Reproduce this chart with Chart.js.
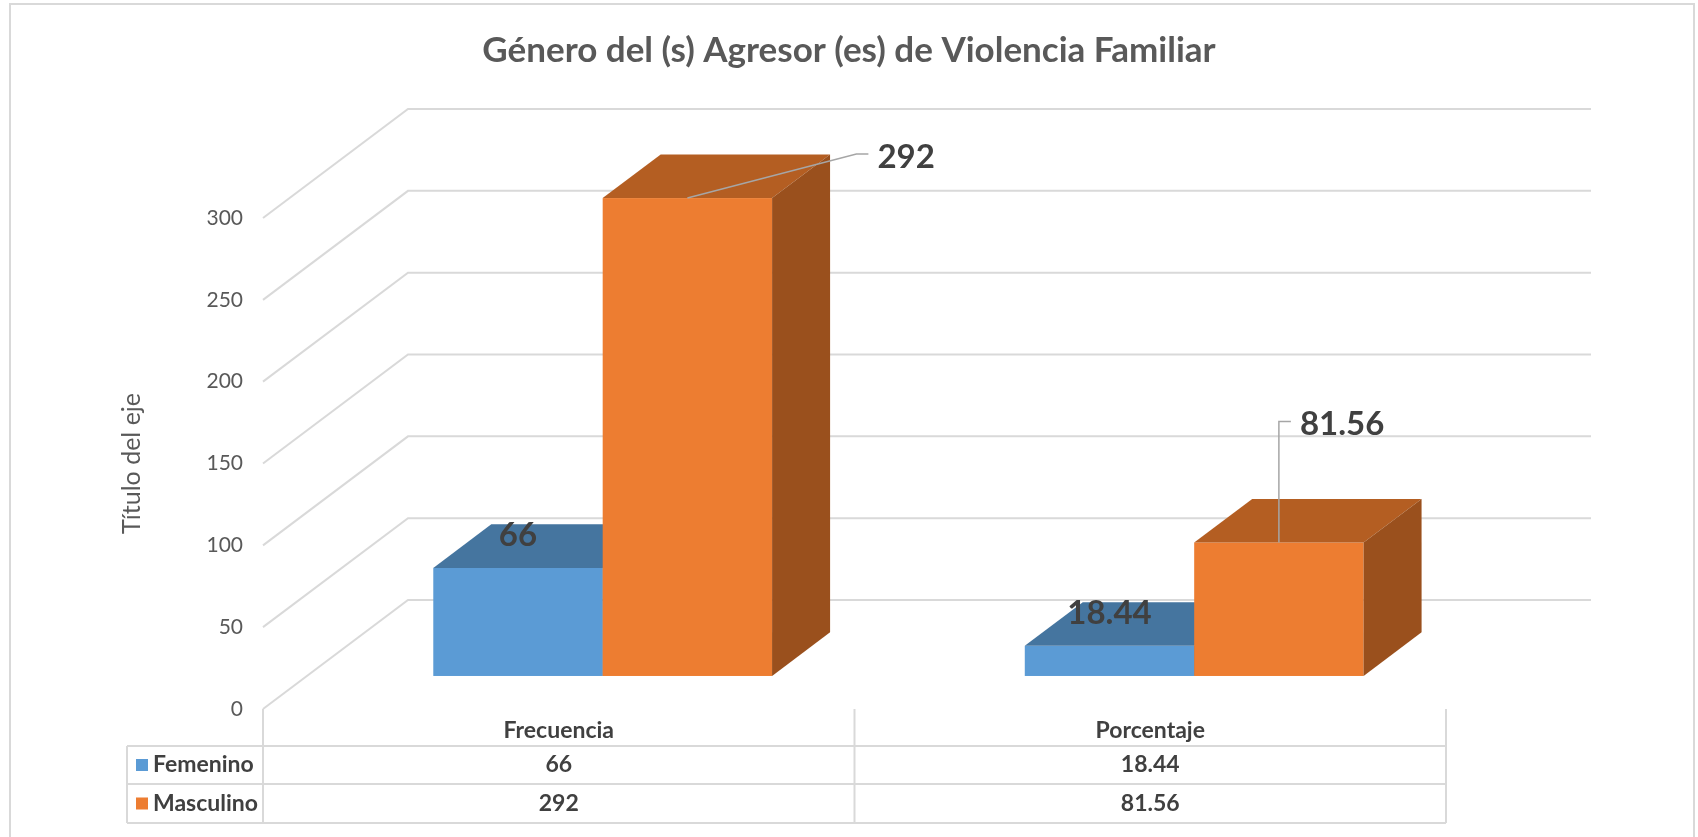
<!DOCTYPE html>
<html lang="es">
<head>
<meta charset="utf-8">
<title>Género del (s) Agresor (es) de Violencia Familiar</title>
<script src="https://cdn.jsdelivr.net/npm/chart.js@4.4.1/dist/chart.umd.min.js"></script>
<style>
    html, body { margin: 0; padding: 0; background: #fff; }
    #wrap { position: relative; width: 1698px; height: 837px; }
</style>
</head>
<body>
<div id="wrap"><canvas id="agresorChart" width="1698" height="837"></canvas></div>
<script>
/* ========================================================
   DATA
======================================================== */
const TITLE        = 'Género del (s) Agresor (es) de Violencia Familiar';
const AXIS_TITLE   = 'Título del eje';
const CATEGORIES   = ['Frecuencia', 'Porcentaje'];
const SERIES_NAMES = ['Femenino', 'Masculino'];
const FEMENINO     = [66, 18.44];
const MASCULINO    = [292, 81.56];
const Y_TICKS      = [0, 50, 100, 150, 200, 250, 300];

/* ========================================================
   STYLE
======================================================== */
const FONT      = 'Lato, "Open Sans", sans-serif';
const GRID      = '#d9d9d9';
const TEXT_DARK = '#404040';
const TEXT_MID  = '#595959';
const FACES = [
    { front: '#5b9bd5', top: '#45759f', side: '#3b6890' },
    { front: '#ed7d31', top: '#b45e22', side: '#9a501d' }
];

// 3D look: floor depth offset and where the bars sit inside it
const DEPTH_X   = 145;
const DEPTH_Y   = 109;
const BAR_FRONT = 0.303;
const BAR_DEPTH = 0.4;

// leader lines of the moved "Masculino" labels: elbow dx, elbow dy, tail
const LEADERS = [[169, -44, 12], [0, -121, 12]];

function poly(ctx, pts, color) {
    ctx.beginPath();
    ctx.moveTo(pts[0][0], pts[0][1]);
    for (let k = 1; k < pts.length; k++) ctx.lineTo(pts[k][0], pts[k][1]);
    ctx.closePath();
    ctx.fillStyle = color;
    ctx.fill();
}

/* ========================================================
   3D BOX PLUGIN
======================================================== */
const box3d = {
    id: 'box3d',
    beforeDraw(chart) {
        const ctx = chart.ctx;
        ctx.save();
        ctx.fillStyle = '#fff';
        ctx.fillRect(0, 0, chart.width, chart.height);
        ctx.strokeStyle = GRID;
        ctx.lineWidth = 2;
        ctx.strokeRect(10, 4, 1684, 900);
        ctx.restore();
    },
    beforeDatasetsDraw(chart) {
        const { ctx, chartArea: a, scales: { y } } = chart;
        ctx.save();
        ctx.strokeStyle = GRID;
        ctx.lineWidth = 2;
        y.ticks.forEach(t => {
            const py = y.getPixelForValue(t.value);
            ctx.beginPath();
            ctx.moveTo(a.left, py);
            ctx.lineTo(a.left + DEPTH_X, py - DEPTH_Y);
            ctx.lineTo(a.right + DEPTH_X, py - DEPTH_Y);
            ctx.stroke();
        });
        ctx.restore();
    },
    afterDatasetsDraw(chart) {
        const ctx = chart.ctx;
        const dx = BAR_DEPTH * DEPTH_X;
        const dy = BAR_DEPTH * DEPTH_Y;
        ctx.save();

        chart.data.datasets.forEach((ds, di) => {
            const meta = chart.getDatasetMeta(di);
            const face = FACES[di];
            meta.data.forEach(bar => {
                const { x, y, base, width } = bar.getProps(['x', 'y', 'base', 'width'], true);
                const l = x - width / 2 + BAR_FRONT * DEPTH_X;
                const r = l + width;
                const t = y - BAR_FRONT * DEPTH_Y;
                const b = base - BAR_FRONT * DEPTH_Y;
                ctx.fillStyle = face.front;
                ctx.fillRect(l, t, width, b - t);
                poly(ctx, [[l, t], [l + dx, t - dy], [r + dx, t - dy], [r, t]], face.top);
                poly(ctx, [[r, t], [r + dx, t - dy], [r + dx, b - dy], [r, b]], face.side);
            });
        });

        // data labels
        ctx.fillStyle = TEXT_DARK;
        ctx.font = `bold 33px ${FONT}`;
        chart.data.datasets.forEach((ds, di) => {
            const meta = chart.getDatasetMeta(di);
            meta.data.forEach((bar, i) => {
                const { x, y } = bar.getProps(['x', 'y'], true);
                const cx = x + BAR_FRONT * DEPTH_X;
                const cy = y - BAR_FRONT * DEPTH_Y;
                const txt = String(ds.data[i]);
                if (di === 0) {
                    ctx.textAlign = 'center';
                    ctx.textBaseline = 'alphabetic';
                    ctx.fillText(txt, cx, cy - 22);
                } else {
                    const [ex, ey, tail] = LEADERS[i];
                    ctx.strokeStyle = '#a6a6a6';
                    ctx.lineWidth = 1.5;
                    ctx.beginPath();
                    ctx.moveTo(cx, cy);
                    ctx.lineTo(cx + ex, cy + ey);
                    ctx.lineTo(cx + ex + tail, cy + ey);
                    ctx.stroke();
                    ctx.textAlign = 'left';
                    ctx.textBaseline = 'middle';
                    ctx.fillText(txt, cx + ex + tail + 9, cy + ey + 3);
                }
            });
        });
        ctx.restore();
    },
    afterDraw(chart) {
        // data table under the plot
        const { ctx, chartArea: a } = chart;
        const cw   = (a.right - a.left) / CATEGORIES.length;
        const rows = [a.bottom, a.bottom + 37, a.bottom + 75, a.bottom + 114];
        const left = a.left - 136;
        const values = [FEMENINO, MASCULINO];

        ctx.save();
        ctx.strokeStyle = GRID;
        ctx.lineWidth = 2;
        ctx.beginPath();
        for (let k = 1; k < rows.length; k++) {
            ctx.moveTo(left, rows[k]);
            ctx.lineTo(a.right, rows[k]);
        }
        ctx.moveTo(left, rows[1]);
        ctx.lineTo(left, rows[3]);
        for (let k = 0; k <= CATEGORIES.length; k++) {
            ctx.moveTo(a.left + k * cw, rows[0]);
            ctx.lineTo(a.left + k * cw, rows[3]);
        }
        ctx.stroke();

        ctx.font = `bold 23px ${FONT}`;
        ctx.fillStyle = TEXT_DARK;
        ctx.textBaseline = 'middle';
        ctx.textAlign = 'center';
        CATEGORIES.forEach((c, i) => {
            ctx.fillText(c, a.left + (i + 0.5) * cw, (rows[0] + rows[1]) / 2 + 3);
        });
        SERIES_NAMES.forEach((name, s) => {
            const my = (rows[s + 1] + rows[s + 2]) / 2;
            ctx.fillStyle = FACES[s].front;
            ctx.fillRect(left + 9, my - 6, 12, 12);
            ctx.fillStyle = TEXT_DARK;
            ctx.textAlign = 'left';
            ctx.fillText(name, left + 26, my);
            ctx.textAlign = 'center';
            values[s].forEach((v, i) => {
                ctx.fillText(String(v), a.left + (i + 0.5) * cw, my);
            });
        });
        ctx.restore();
    }
};

/* ========================================================
   CHART
======================================================== */
const ctx = document.getElementById('agresorChart').getContext('2d');
const agresorChart = new Chart(ctx, {
    type: 'bar',
    data: {
        labels: CATEGORIES,
        datasets: [
            { label: SERIES_NAMES[0], data: FEMENINO,  backgroundColor: 'rgba(0,0,0,0)' },
            { label: SERIES_NAMES[1], data: MASCULINO, backgroundColor: 'rgba(0,0,0,0)' }
        ]
    },
    options: {
        responsive: false,
        animation: false,
        devicePixelRatio: 1,
        categoryPercentage: 0.5728,
        barPercentage: 1,
        layout: { padding: { left: 0, right: 0, top: 0, bottom: 128 } },
        scales: {
            x: { display: false },
            y: {
                min: Y_TICKS[0],
                max: Y_TICKS[Y_TICKS.length - 1],
                ticks: {
                    stepSize: Y_TICKS[1] - Y_TICKS[0],
                    padding: 20,
                    color: TEXT_MID,
                    font: { family: FONT, size: 21 }
                },
                grid: { display: false, drawTicks: false },
                border: { display: false },
                title: {
                    display: true,
                    text: AXIS_TITLE,
                    color: TEXT_MID,
                    font: { family: FONT, size: 25 },
                    padding: { top: 117, bottom: 0 }
                },
                afterFit(scale) { scale.width = 263; }
            },
            // empty right axis, only keeps the plot clear of the right margin
            yRight: {
                position: 'right',
                display: true,
                ticks: { display: false },
                grid: { display: false, drawTicks: false },
                border: { display: false },
                afterFit(scale) { scale.width = 252; }
            }
        },
        plugins: {
            legend: { display: false },
            tooltip: { enabled: false },
            title: {
                display: true,
                text: TITLE,
                color: TEXT_MID,
                font: { family: FONT, size: 35, weight: 'bold' },
                padding: { top: 30, bottom: 146 }
            }
        }
    },
    plugins: [box3d]
});
</script>
</body>
</html>
